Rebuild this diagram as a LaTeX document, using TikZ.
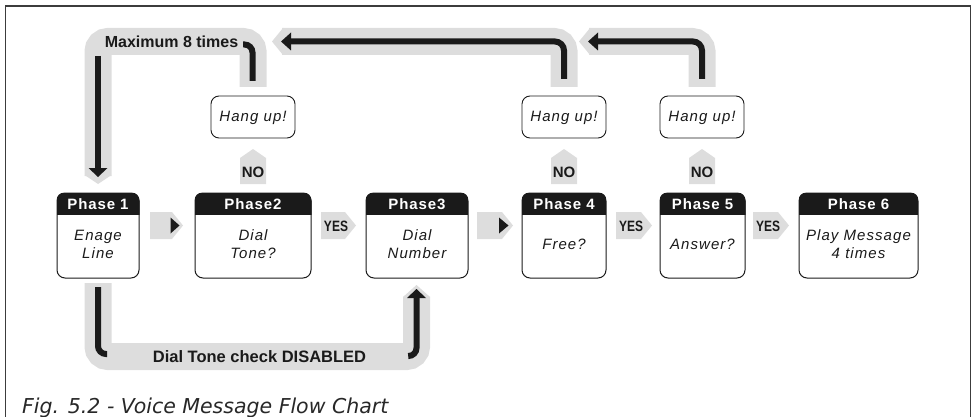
\documentclass[tikz,border=0pt]{standalone}
\usepackage{fontspec}
\setmainfont{Liberation Sans}
\newfontfamily\hdrfont{Liberation Sans}[LetterSpace=6]
\newfontfamily\itfont{Liberation Sans}[LetterSpace=7]
\newfontfamily\narrowfont{Liberation Sans}[FakeStretch=0.8]
\newfontfamily\capfont{DejaVu Sans}
\definecolor{band}{RGB}{221,221,221}
\definecolor{blk}{RGB}{26,26,26}
\definecolor{framec}{RGB}{60,60,60}
\definecolor{capc}{RGB}{40,40,40}
\tikzset{
  phasebox/.style={draw=blk, line width=1pt, rounded corners=8pt, minimum height=85pt, inner sep=0pt},
  hangbox/.style={draw=blk, line width=0.9pt, rounded corners=8pt, minimum width=84pt, minimum height=42pt, inner sep=0pt},
  hdr/.style={text=white, font=\hdrfont\bfseries\fontsize{15}{18}\selectfont, inner sep=0pt},
  body/.style={text=blk, align=center, font=\itfont\itshape\fontsize{15}{18}\selectfont, inner sep=0pt},
  grayband/.style={draw=band, line width=27pt, rounded corners=10pt},
  blackline/.style={draw=blk, line width=6pt, rounded corners=9pt},
  lbl/.style={text=blk, font=\bfseries\fontsize{16}{18}\selectfont, inner sep=0pt},
  nolbl/.style={text=blk, font=\bfseries\fontsize{15}{18}\selectfont, inner sep=0pt},
  yeslbl/.style={text=blk, font=\narrowfont\bfseries\fontsize{15}{18}\selectfont, inner sep=0pt},
}
\newcommand\phasehead[1]{%
  \begin{scope}
    \clip[rounded corners=8pt] (#1.north west) rectangle (#1.south east);
    \fill[blk] (#1.north west) rectangle ([yshift=-22pt]#1.north east);
  \end{scope}}
\newcommand\grayright[3]{%
  \fill[band] (#1,#3-13.5) -- (#2-11,#3-13.5) -- (#2,#3) -- (#2-11,#3+13.5) -- (#1,#3+13.5) -- cycle;}
\newcommand\grayup[1]{%
  \fill[band] (#1-13,184) -- (#1-13,158) -- (#1,149) -- (#1+13,158) -- (#1+13,184) -- cycle;}
\begin{document}
\begin{tikzpicture}[x=1pt,y=-1pt]
\useasboundingbox (0,0) rectangle (974,417);
\draw[framec, line width=1.2pt] (5.5,417) -- (5.5,6) -- (970.5,6) -- (970.5,417);

% ---- gray bands (top loops) ----
\draw[grayband] (589,41.5) -- (702,41.5) -- (702,87);
\fill[band] (590,28) -- (579,41.5) -- (590,55) -- cycle;
\draw[grayband] (282,41.5) -- (564,41.5) -- (564,87);
\fill[band] (283,28) -- (272,41.5) -- (283,55) -- cycle;
\draw[grayband] (253,87) -- (253,41.5) -- (98,41.5) -- (98,176);
\fill[band] (84.5,175) -- (98,184) -- (111.5,175) -- cycle;
% ---- gray band (bottom loop) ----
\draw[grayband] (98,283) -- (98,356.5) -- (416.5,356.5) -- (416.5,296.5);
\fill[band] (403,297) -- (416.5,285) -- (430,297) -- cycle;

% ---- black lines ----
\coordinate (l3a) at (702,79);
\coordinate (l3b) at (597,41.5);
\draw[blackline] (l3a) -- (702,41.5) -- (l3b);
\fill[blk] (598,32.5) -- (588,41.5) -- (598,50.5) -- cycle;
\coordinate (l2a) at (564,79);
\coordinate (l2b) at (290,41.5);
\draw[blackline] (l2a) -- (564,41.5) -- (l2b);
\fill[blk] (291,32.5) -- (281,41.5) -- (291,50.5) -- cycle;
\coordinate (l1a) at (252.5,81);
\coordinate (l1b) at (243,44.5);
\draw[blackline, rounded corners=8pt] (l1a) -- (252.5,44.5) -- (l1b);
\coordinate (l0a) at (98,56);
\coordinate (l0b) at (98,169);
\draw[blackline] (l0a) -- (l0b);
\fill[blk] (88.5,168) -- (98,177) -- (107.5,168) -- cycle;
\coordinate (b1a) at (98,287);
\coordinate (b1b) at (107,354);
\draw[blackline, rounded corners=8pt] (b1a) -- (98,354) -- (b1b);
\coordinate (b2a) at (409,356);
\coordinate (b2b) at (416.5,297);
\draw[blackline, rounded corners=8pt] (b2a) -- (416.5,356) -- (b2b);
\fill[blk] (407,298) -- (416.5,289) -- (426,298) -- cycle;

\node[lbl] (max8) at (171.5,41.5) {Maximum 8 times};
\node[lbl, font=\bfseries\fontsize{16.5}{18}\selectfont] (dtc) at (259.5,357) {Dial Tone check DISABLED};

% ---- phase boxes ----
\node[phasebox, minimum width=82pt] (p1) at (98,235.5) {};
\node[phasebox, minimum width=116pt] (p2) at (253,235.5) {};
\node[phasebox, minimum width=102pt] (p3) at (417,235.5) {};
\node[phasebox, minimum width=84pt] (p4) at (564,235.5) {};
\node[phasebox, minimum width=85pt] (p5) at (702.5,235.5) {};
\node[phasebox, minimum width=119pt] (p6) at (858.5,235.5) {};
\phasehead{p1}\phasehead{p2}\phasehead{p3}\phasehead{p4}\phasehead{p5}\phasehead{p6}
\node[hdr] (h1) at (98,204.5) {Phase 1};
\node[hdr] (h2) at (253,204.5) {Phase2};
\node[hdr] (h3) at (417,204.5) {Phase3};
\node[hdr] (h4) at (564,204.5) {Phase 4};
\node[hdr] (h5) at (702.5,204.5) {Phase 5};
\node[hdr] (h6) at (858.5,204.5) {Phase 6};
\node[body] (t1) at (98,244.5) {Enage\\Line};
\node[body] (t2) at (253,244.5) {Dial\\Tone?};
\node[body] (t3) at (417,244.5) {Dial\\Number};
\node[body] (t4) at (564,244.5) {Free?};
\node[body] (t5) at (702.5,244.5) {Answer?};
\node[body] (t6) at (858.5,244.5) {Play Message\\4 times};

% ---- hang up boxes ----
\node[hangbox] (hu1) at (253,117) {};
\node[hangbox] (hu2) at (564,117) {};
\node[hangbox] (hu3) at (702,117) {};
\node[body, anchor=base] (hut1) at (253,122) {Hang up!};
\node[body, anchor=base] (hut2) at (564,122) {Hang up!};
\node[body, anchor=base] (hut3) at (702,122) {Hang up!};

% ---- NO arrows ----
\grayup{253}\grayup{564}\grayup{702}
\node[nolbl] (no1) at (253,172) {NO};
\node[nolbl] (no2) at (564,172) {NO};
\node[nolbl] (no3) at (702,172) {NO};

% ---- horizontal arrows ----
\grayright{150}{183}{225.5}
\fill[blk] (170.5,217.5) -- (179.5,225.5) -- (170.5,233.5) -- cycle;
\grayright{321}{356}{225.5}
\node[yeslbl] (y23) at (336,226) {YES};
\grayright{477}{513}{225.5}
\fill[blk] (499,217.5) -- (508.5,225.5) -- (499,233.5) -- cycle;
\grayright{616}{652}{225.5}
\node[yeslbl] (y45) at (631,226) {YES};
\grayright{753}{789}{225.5}
\node[yeslbl] (y56) at (768,226) {YES};

% ---- caption ----
\node[anchor=base west, inner sep=0pt, text=capc, font=\capfont\itshape\fontsize{20.5}{24}\selectfont] (cap) at (22,413) {Fig. 5.2 - Voice Message Flow Chart};
\end{tikzpicture}
\end{document}
